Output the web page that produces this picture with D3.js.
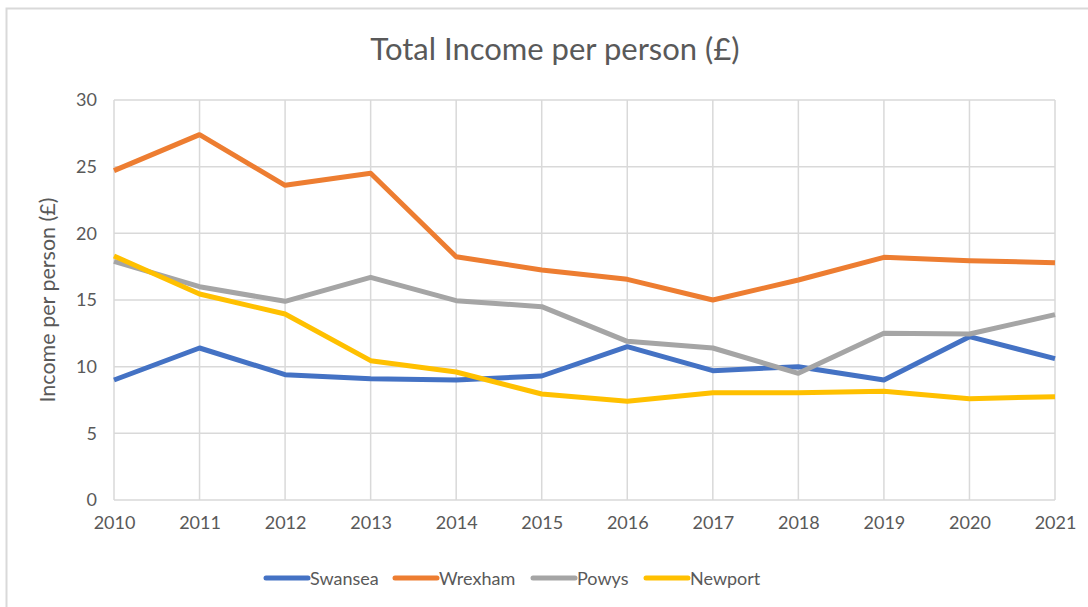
<!DOCTYPE html>
<html>
<head>
<meta charset="utf-8">
<script src="https://cdn.jsdelivr.net/npm/d3@7"></script>
<style>
  body { margin: 0; background: #fff; }
  svg { display: block; font-family: Lato, "Open Sans", sans-serif; }
</style>
</head>
<body>
<div id="chart"></div>
<script>
const years = [2010, 2011, 2012, 2013, 2014, 2015, 2016, 2017, 2018, 2019, 2020, 2021];
const yTicks = [0, 5, 10, 15, 20, 25, 30];

const swansea = [9.0, 11.4, 9.4, 9.1, 9.0, 9.3, 11.5, 9.7, 10.0, 9.0, 12.25, 10.6];
const wrexham = [24.7, 27.4, 23.6, 24.5, 18.25, 17.25, 16.55, 15.0, 16.5, 18.2, 17.95, 17.8];
const powys = [17.9, 16.0, 14.9, 16.7, 14.95, 14.5, 11.9, 11.4, 9.5, 12.5, 12.45, 13.9];
const newport = [18.3, 15.45, 13.95, 10.45, 9.6, 7.95, 7.4, 8.05, 8.05, 8.15, 7.6, 7.75];

const seriesNames = ["Swansea", "Wrexham", "Powys", "Newport"];
const seriesColors = ["#4472C4", "#ED7D31", "#A5A5A5", "#FFC000"];
const seriesValues = [swansea, wrexham, powys, newport];

const width = 1088, height = 607;
const margin = {left: 114, right: 33, top: 100, bottom: 107};
const font = "Lato, 'Open Sans', sans-serif";

const svg = d3.select("#chart").append("svg")
  .attr("width", width)
  .attr("height", height);

// chart frame
svg.append("rect")
  .attr("x", 6.5).attr("y", 8.5)
  .attr("width", width).attr("height", height)
  .attr("fill", "white")
  .attr("stroke", "#D9D9D9")
  .attr("stroke-width", 2);

const x = d3.scaleLinear()
  .domain([years[0], years[years.length - 1]])
  .range([margin.left, width - margin.right]);
const y = d3.scaleLinear()
  .domain([0, 30])
  .range([height - margin.bottom, margin.top]);

// gridlines
const grid = svg.append("g").attr("stroke", "#D9D9D9").attr("stroke-width", 1.5);
grid.selectAll("line.h")
  .data(yTicks)
  .join("line")
  .attr("class", "h")
  .attr("x1", x.range()[0]).attr("x2", x.range()[1])
  .attr("y1", d => y(d)).attr("y2", d => y(d));
grid.selectAll("line.v")
  .data(years)
  .join("line")
  .attr("class", "v")
  .attr("x1", d => x(d)).attr("x2", d => x(d))
  .attr("y1", y(0)).attr("y2", y(30));

// axes
const yAxis = svg.append("g")
  .attr("transform", `translate(${x.range()[0] - 17},0)`)
  .call(d3.axisLeft(y).tickValues(yTicks).tickSize(0).tickPadding(0));
yAxis.select(".domain").remove();
yAxis.selectAll("text")
  .attr("fill", "#595959")
  .attr("font-size", 18)
  .attr("font-family", font);

const xAxis = svg.append("g")
  .attr("transform", `translate(0,${y(0) + 16})`)
  .call(d3.axisBottom(x).tickValues(years).tickFormat(d3.format("d")).tickSize(0).tickPadding(0));
xAxis.select(".domain").remove();
xAxis.selectAll("text")
  .attr("fill", "#595959")
  .attr("font-size", 18)
  .attr("font-family", font);

// lines
const line = d3.line()
  .x((d, i) => x(years[i]))
  .y(d => y(d));

svg.append("g")
  .selectAll("path")
  .data(seriesValues)
  .join("path")
  .attr("fill", "none")
  .attr("stroke", (d, i) => seriesColors[i])
  .attr("stroke-width", 5)
  .attr("stroke-linejoin", "round")
  .attr("stroke-linecap", "butt")
  .attr("d", line);

// title
svg.append("text")
  .attr("x", 555).attr("y", 60)
  .attr("text-anchor", "middle")
  .attr("fill", "#595959")
  .attr("font-size", 31)
  .text("Total Income per person (£)");

// y axis title
svg.append("text")
  .attr("transform", "translate(55,300) rotate(-90)")
  .attr("text-anchor", "middle")
  .attr("fill", "#595959")
  .attr("font-size", 21.5)
  .text("Income per person (£)");

// legend
const legendX = [266, 395, 533, 646];
const legend = svg.append("g")
  .selectAll("g")
  .data(seriesNames)
  .join("g")
  .attr("transform", (d, i) => `translate(${legendX[i]},578)`);
legend.append("line")
  .attr("x1", 0).attr("x2", 42)
  .attr("stroke", (d, i) => seriesColors[i])
  .attr("stroke-width", 5)
  .attr("stroke-linecap", "round");
legend.append("text")
  .attr("x", 44).attr("y", 7)
  .attr("fill", "#595959")
  .attr("font-size", 18)
  .text(d => d);
</script>
</body>
</html>
